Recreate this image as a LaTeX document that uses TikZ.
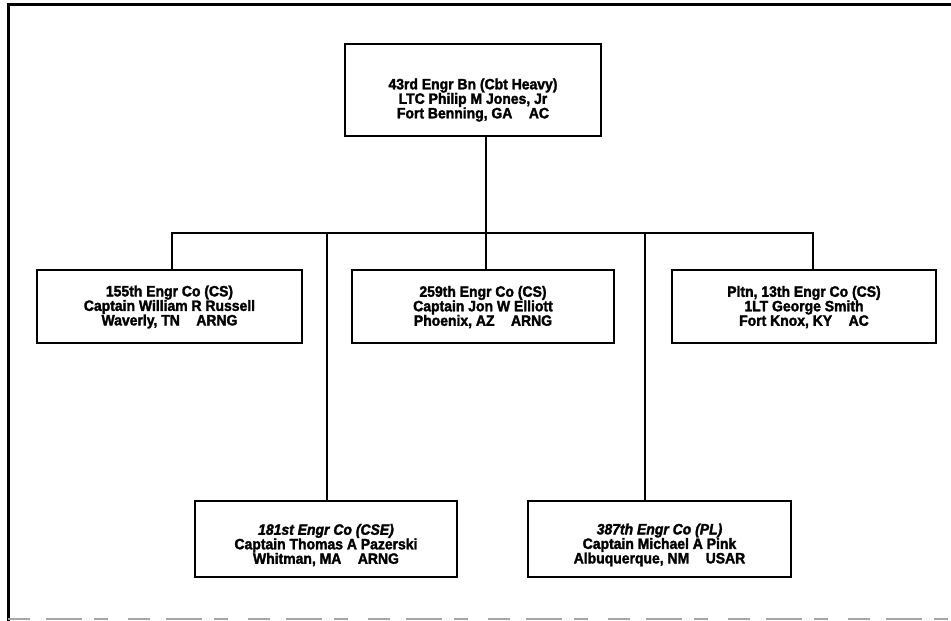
\documentclass[tikz,border=0pt]{standalone}
\usepackage{fontspec}
\setmainfont[FakeBold=2, FakeStretch=0.93]{Liberation Sans}
\begin{document}
\begin{tikzpicture}[x=1pt,y=-1pt,
  orgbox/.style={draw, line width=2.8pt, inner sep=0pt},
  lbl/.style={align=center, inner sep=0pt, font=\bfseries\fontsize{15}{14.5}\selectfont},
  conn/.style={line width=2.5pt},
  frame/.style={line width=3pt}]
\useasboundingbox (0,0) rectangle (951,621);
% frame
\draw[frame] (8,621) -- (8,4) -- (951,4);
\draw[gray!70, line width=1.3pt, dash pattern=on 22pt off 16pt on 36pt off 12pt on 14pt off 20pt] (8,619) -- (951,619);
% top box
\node[orgbox, minimum width=256pt, minimum height=92pt] (bn) at (473,90) {};
\node[lbl] (bnt) at (473,100) {43rd Engr Bn (Cbt Heavy)\\LTC Philip M Jones, Jr\\Fort Benning, GA\hspace{1.1em}AC};
% middle row
\node[orgbox, minimum width=265pt, minimum height=73pt] (c155) at (169.5,306.5) {};
\node[lbl] (c155t) at (169.5,307) {155th Engr Co (CS)\\Captain William R Russell\\Waverly, TN\hspace{1.1em}ARNG};
\node[orgbox, minimum width=262pt, minimum height=73pt] (c259) at (483,306.5) {};
\node[lbl] (c259t) at (483,307) {259th Engr Co (CS)\\Captain Jon W Elliott\\Phoenix, AZ\hspace{1.1em}ARNG};
\node[orgbox, minimum width=264pt, minimum height=73pt] (pltn) at (804,306.5) {};
\node[lbl] (pltnt) at (804,307) {Pltn, 13th Engr Co (CS)\\1LT George Smith\\Fort Knox, KY\hspace{1.1em}AC};
% bottom row
\node[orgbox, minimum width=262pt, minimum height=76pt] (c181) at (326,539) {};
\node[lbl] (c181t) at (326,545) {\itshape 181st Engr Co (CSE)\\Captain Thomas A Pazerski\\Whitman, MA\hspace{1.1em}ARNG};
\node[orgbox, minimum width=263pt, minimum height=76pt] (c387) at (659.5,539) {};
\node[lbl] (c387t) at (659.5,545) {\itshape 387th Engr Co (PL)\\Captain Michael A Pink\\Albuquerque, NM\hspace{1.1em}USAR};
% connectors
\coordinate (busL) at (172,233);
\coordinate (busR) at (813,233);
\draw[conn] ([xshift=13pt]bn.south) -- ([xshift=3pt]c259.north);
\draw[conn, line cap=rect] (busL) -- (busR);
\draw[conn] (busL) -- ([xshift=2.5pt]c155.north);
\draw[conn] (busR) -- ([xshift=9pt]pltn.north);
\draw[conn] ([xshift=1pt]c181.north |- busL) -- ([xshift=1pt]c181.north);
\draw[conn] ([xshift=-14.5pt]c387.north |- busL) -- ([xshift=-14.5pt]c387.north);
\end{tikzpicture}
\end{document}
